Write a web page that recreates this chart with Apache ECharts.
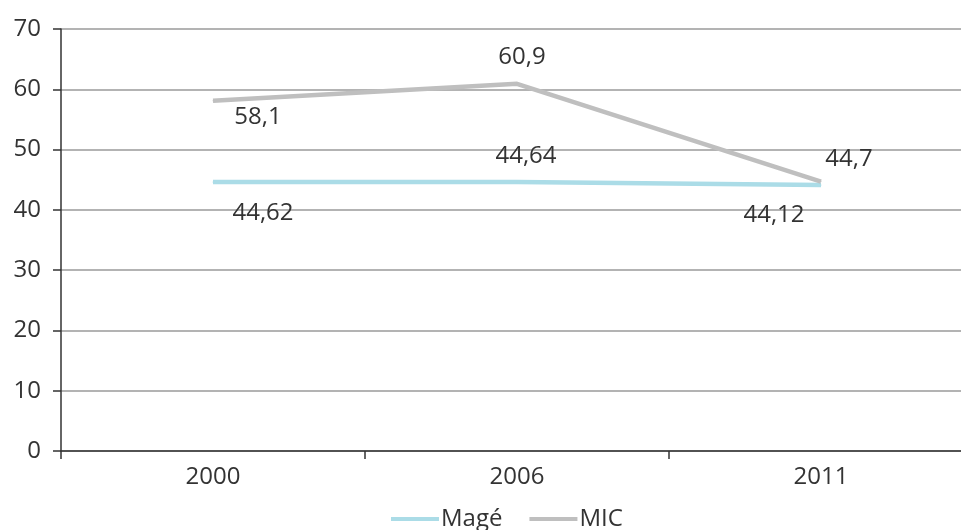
<!DOCTYPE html>
<html>
<head>
<meta charset="utf-8">
<script src="https://cdn.jsdelivr.net/npm/echarts@6/dist/echarts.min.js"></script>
<style>
html,body{margin:0;padding:0;background:#fff;}
#c{width:961px;height:530px;}
</style>
</head>
<body>
<div id="c"></div>
<script>
const categories = ['2000', '2006', '2011'];
const mageValues = [44.62, 44.64, 44.12];
const micValues = [58.1, 60.9, 44.7];
const yTicks = [0, 10, 20, 30, 40, 50, 60, 70];

// label offsets (layout only)
const mageLabelOffsets = [[50, 31], [9, -26], [-47, 30]];
const micLabelOffsets = [[45, 16], [5, -27], [28, -22]];

const FONT = '"Open Sans", "Noto Sans", sans-serif';
const fmt = v => String(v).replace('.', ',');

function buildData(vals, offs) {
  return vals.map((v, i) => ({
    value: v,
    label: { offset: offs[i] }
  }));
}

const chart = echarts.init(document.getElementById('c'), null, { renderer: 'canvas' });
chart.setOption({
  animation: false,
  backgroundColor: '#ffffff',
  textStyle: { fontFamily: FONT },
  grid: { left: 61, top: 29, width: 912, bottom: 79, containLabel: false, outerBoundsMode: 'none' },
  legend: {
    data: ['Magé', 'MIC'],
    left: 386,
    top: 500,
    icon: 'rect',
    itemWidth: 48,
    itemHeight: 4,
    itemGap: 27,
    textStyle: { fontFamily: FONT, fontSize: 24, color: '#333333', lineHeight: 28, padding: [0, 0, 0, -3] }
  },
  xAxis: {
    type: 'category',
    data: categories,
    boundaryGap: true,
    axisLine: { lineStyle: { color: '#333333', width: 1.5 } },
    axisTick: { show: true, length: 8, lineStyle: { color: '#333333', width: 1.5 } },
    axisLabel: { fontFamily: FONT, fontSize: 24, color: '#333333', margin: 14 },
    splitLine: { show: false }
  },
  yAxis: {
    type: 'value',
    min: yTicks[0],
    max: yTicks[yTicks.length - 1],
    interval: 10,
    axisLine: { show: true, lineStyle: { color: '#333333', width: 1.5 } },
    axisTick: { show: true, length: 8, lineStyle: { color: '#333333', width: 1.5 } },
    axisLabel: { fontFamily: FONT, fontSize: 24, color: '#333333', margin: 20 },
    splitLine: { show: true, lineStyle: { color: '#9a9a9a', width: 1.5 } }
  },
  series: [
    {
      name: 'Magé',
      type: 'line',
      data: buildData(mageValues, mageLabelOffsets),
      symbol: 'circle',
      symbolSize: 1,
      showSymbol: true,
      itemStyle: { color: '#ABDCE7' },
      lineStyle: { color: '#ABDCE7', width: 4.5, cap: 'butt' },
      label: {
        show: true,
        position: 'inside',
        formatter: p => fmt(p.value),
        fontFamily: FONT,
        fontSize: 24,
        color: '#333333',
        align: 'center',
        verticalAlign: 'middle'
      },
      z: 3
    },
    {
      name: 'MIC',
      type: 'line',
      data: buildData(micValues, micLabelOffsets),
      symbol: 'circle',
      symbolSize: 1,
      showSymbol: true,
      itemStyle: { color: '#BFBFBF' },
      lineStyle: { color: '#BFBFBF', width: 4.5, cap: 'butt' },
      label: {
        show: true,
        position: 'inside',
        formatter: p => fmt(p.value),
        fontFamily: FONT,
        fontSize: 24,
        color: '#333333',
        align: 'center',
        verticalAlign: 'middle'
      },
      z: 4
    }
  ]
});
</script>
</body>
</html>
